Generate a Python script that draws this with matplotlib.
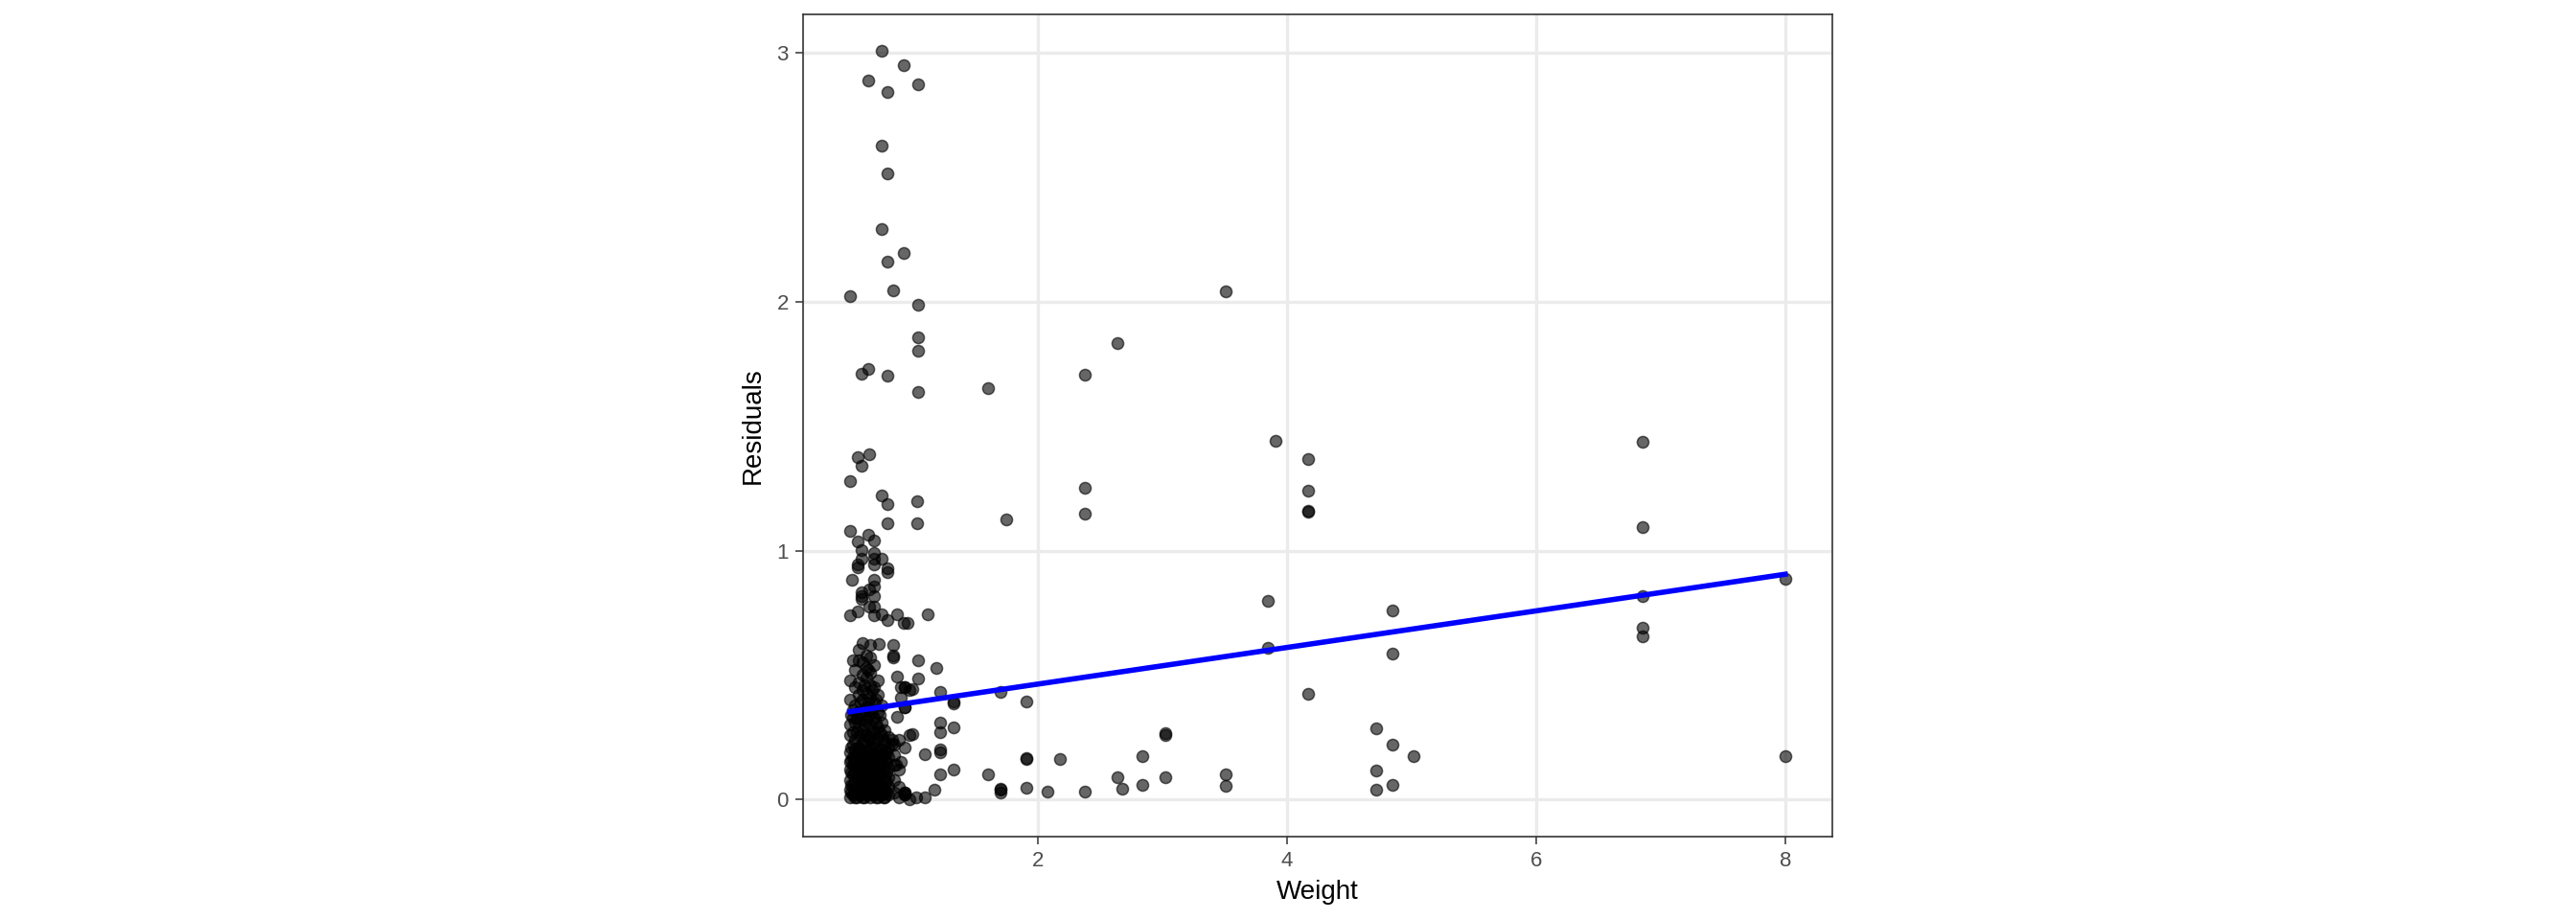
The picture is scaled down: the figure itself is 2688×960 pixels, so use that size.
import numpy as np
import matplotlib.pyplot as plt

plt.rcParams['font.family'] = ['Liberation Sans', 'DejaVu Sans']

# isolated points (weight, residual)
spread_w = [0.744, 0.921, 0.638, 1.034, 0.790, 0.746, 0.790, 0.746, 0.921, 0.790,
            0.834, 0.488, 1.034, 1.034, 1.034, 0.638, 0.585, 0.790, 1.034, 1.598,
            0.641, 0.554, 0.585, 0.488, 0.744, 0.790, 1.028, 0.790, 1.028, 0.488,
            0.633, 0.554, 0.682, 0.582, 0.680, 0.580, 0.680, 0.744, 0.549, 0.549,
            0.680, 0.790, 0.790, 0.508, 0.680, 0.680, 0.641, 0.585, 0.585, 0.585,
            0.680, 0.641, 0.680, 0.488, 0.550, 0.680, 0.744, 0.867, 1.113, 0.790,
            0.950, 0.918, 0.834, 0.834, 0.834, 0.718, 0.510, 1.034, 1.180, 0.865,
            1.034, 0.926, 0.990, 1.210, 1.320, 1.320, 0.930, 0.865, 1.210, 1.210,
            1.320, 0.987, 1.090, 1.210, 1.210, 1.320, 1.210, 0.860, 0.930, 0.930,
            1.020, 1.090, 1.170, 1.600, 0.900, 0.900, 0.830, 0.830, 0.900]
spread_r = [3.006, 2.951, 2.889, 2.873, 2.841, 2.627, 2.515, 2.290, 2.197, 2.162,
            2.046, 2.022, 1.987, 1.856, 1.801, 1.728, 1.710, 1.701, 1.636, 1.652,
            1.387, 1.375, 1.341, 1.280, 1.221, 1.185, 1.199, 1.108, 1.108, 1.080,
            1.065, 1.035, 1.042, 1.001, 0.990, 0.968, 0.968, 0.966, 0.945, 0.934,
            0.945, 0.930, 0.912, 0.884, 0.883, 0.857, 0.845, 0.832, 0.819, 0.806,
            0.816, 0.774, 0.774, 0.741, 0.756, 0.741, 0.745, 0.745, 0.745, 0.720,
            0.710, 0.708, 0.620, 0.580, 0.570, 0.626, 0.558, 0.558, 0.530, 0.494,
            0.485, 0.453, 0.443, 0.434, 0.395, 0.385, 0.370, 0.332, 0.310, 0.270,
            0.290, 0.263, 0.181, 0.200, 0.190, 0.119, 0.100, 0.140, 0.030, 0.020,
            0.010, 0.010, 0.040, 0.100, 0.450, 0.410, 0.240, 0.225, 0.150]

# dense block at low weight
block_w = ([0.49] * 10 + [0.51] * 9 + [0.53] * 11 + [0.56] * 12 + [0.59] * 14
           + [0.62] * 13 + [0.65] * 14 + [0.68] * 11 + [0.71] * 11 + [0.74] * 9
           + [0.77] * 8 + [0.80] * 7 + [0.84] * 5 + [0.88] * 4 + [0.93] * 5
           + [0.97] * 3)
block_r = [0.01, 0.04, 0.08, 0.12, 0.15, 0.19, 0.26, 0.30, 0.40, 0.48,
           0.02, 0.06, 0.10, 0.14, 0.17, 0.22, 0.27, 0.33, 0.36,
           0.01, 0.03, 0.07, 0.11, 0.16, 0.20, 0.24, 0.31, 0.38, 0.45, 0.52,
           0.02, 0.05, 0.09, 0.13, 0.18, 0.21, 0.29, 0.35, 0.42, 0.47, 0.56, 0.60,
           0.01, 0.04, 0.08, 0.12, 0.15, 0.19, 0.23, 0.28, 0.34, 0.40, 0.44, 0.50, 0.55, 0.63,
           0.02, 0.06, 0.10, 0.14, 0.17, 0.22, 0.26, 0.32, 0.37, 0.43, 0.49, 0.53, 0.58,
           0.01, 0.03, 0.07, 0.11, 0.16, 0.20, 0.25, 0.30, 0.36, 0.41, 0.46, 0.51, 0.57, 0.62,
           0.02, 0.05, 0.09, 0.13, 0.18, 0.21, 0.27, 0.33, 0.39, 0.45, 0.54,
           0.01, 0.04, 0.08, 0.12, 0.15, 0.19, 0.24, 0.29, 0.35, 0.42, 0.48,
           0.02, 0.06, 0.10, 0.14, 0.17, 0.20, 0.26, 0.31, 0.38,
           0.01, 0.03, 0.07, 0.11, 0.16, 0.19, 0.23, 0.28,
           0.02, 0.05, 0.09, 0.13, 0.17, 0.21, 0.25,
           0.03, 0.08, 0.14, 0.18, 0.22,
           0.01, 0.05, 0.12, 0.24,
           0.03, 0.02, 0.21, 0.37, 0.45,
           0.00, 0.26, 0.44]

# second layer of the block so its core reads solid black
core_w = ([0.50] * 6 + [0.545] * 7 + [0.575] * 8 + [0.605] * 9 + [0.635] * 9
          + [0.665] * 9 + [0.695] * 8 + [0.725] * 7 + [0.755] * 6 + [0.785] * 5)
core_r = [0.03, 0.06, 0.11, 0.16, 0.21, 0.34,
          0.01, 0.05, 0.09, 0.13, 0.18, 0.27, 0.33,
          0.02, 0.06, 0.10, 0.15, 0.20, 0.26, 0.32, 0.39,
          0.01, 0.04, 0.08, 0.12, 0.17, 0.24, 0.30, 0.36, 0.46,
          0.03, 0.06, 0.10, 0.14, 0.19, 0.25, 0.33, 0.39, 0.52,
          0.02, 0.05, 0.09, 0.13, 0.18, 0.23, 0.28, 0.35, 0.44,
          0.01, 0.04, 0.08, 0.12, 0.17, 0.22, 0.31, 0.40,
          0.02, 0.06, 0.10, 0.14, 0.18, 0.27, 0.34,
          0.01, 0.05, 0.09, 0.13, 0.18, 0.24,
          0.03, 0.07, 0.11, 0.15, 0.19]

# heavier items
heavy_w = [3.507, 2.634, 2.372, 3.908, 4.165, 2.372, 4.165, 1.744, 2.372, 4.165,
           4.165, 3.844, 4.846, 3.844, 4.846, 1.698, 1.908, 4.165, 4.718, 3.021,
           3.021, 4.846, 1.908, 1.908, 2.175, 2.838, 5.018, 4.718, 2.634, 3.021,
           3.507, 2.677, 2.838, 3.507, 1.908, 2.075, 2.372, 4.718, 4.846, 1.698,
           1.698, 1.698, 6.857, 6.857, 6.857, 6.857, 6.857, 8.0, 8.0]
heavy_r = [2.043, 1.834, 1.706, 1.442, 1.368, 1.252, 1.240, 1.126, 1.150, 1.155,
           1.160, 0.799, 0.759, 0.609, 0.586, 0.434, 0.395, 0.426, 0.286, 0.261,
           0.266, 0.220, 0.161, 0.166, 0.161, 0.176, 0.173, 0.116, 0.090, 0.089,
           0.103, 0.044, 0.059, 0.055, 0.048, 0.032, 0.031, 0.041, 0.058, 0.040,
           0.030, 0.045, 1.438, 1.094, 0.819, 0.692, 0.657, 0.885, 0.173]

# linear fit shown in blue
fit_intercept = 0.317
fit_slope = 0.0735

weight = np.array(spread_w + block_w + core_w + heavy_w)
resid = np.array(spread_r + block_r + core_r + heavy_r)

fig = plt.figure(figsize=(13.44, 4.8), dpi=200)
ax = fig.add_axes([0.3118, 0.0906, 0.3996, 0.8938])

ax.scatter(weight, resid, s=19, c='black', alpha=0.6,
           edgecolors='black', linewidths=0.55, zorder=3)

fit_x = np.array([weight.min(), weight.max()])
ax.plot(fit_x, fit_intercept + fit_slope * fit_x, color='#0000ff', lw=2.0, zorder=4)

ax.set_xlim(0.113, 8.38)
ax.set_ylim(-0.149, 3.154)
ax.set_xticks([2, 4, 6, 8])
ax.set_yticks([0, 1, 2, 3])
ax.grid(True, color='#ebebeb', lw=1.2, zorder=0)
ax.set_axisbelow(True)
for sp in ax.spines.values():
    sp.set_color('#333333')
    sp.set_linewidth(0.6)
ax.tick_params(length=2.9, width=0.55, color='#333333', labelcolor='#4d4d4d',
               labelsize=8, pad=2.6)
ax.set_xlabel('Weight', fontsize=10, labelpad=3)
ax.set_ylabel('Residuals', fontsize=10, labelpad=4)

fig.savefig('out.png', dpi=200)
